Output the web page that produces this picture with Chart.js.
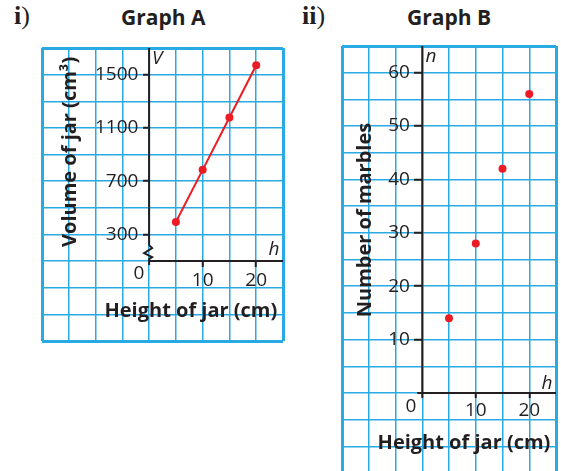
<!DOCTYPE html>
<html>
<head>
<meta charset="utf-8">
<script src="https://cdn.jsdelivr.net/npm/chart.js@4.4.1/dist/chart.umd.min.js"></script>
<style>
  html, body { margin:0; padding:0; background:#fff; overflow:hidden; width:561px; height:471px; }
  .wrap { position:relative; width:561px; height:471px; }
  canvas { position:absolute; }
  #chartA { left:0; top:0; }
  #chartB { left:300px; top:0; }
  .num { position:absolute; top:1px; font-family:"Liberation Serif", serif; font-size:26px; color:#231f20; line-height:30px; }
  .num b { font-weight:bold; }
  .ttl { position:absolute; top:3px; font-family:"Open Sans", sans-serif; font-weight:bold; font-size:21px; color:#231f20; line-height:28px; }
</style>
</head>
<body>
<div class="wrap">
  <div class="num" style="left:14px"><b>i</b>)</div>
  <div class="ttl" style="left:121px">Graph A</div>
  <div class="num" style="left:302px"><b>ii</b>)</div>
  <div class="ttl" style="left:407px">Graph B</div>
  <canvas id="chartA" width="300" height="360"></canvas>
  <canvas id="chartB" width="261" height="490"></canvas>
</div>
<script>
// Graph A: height of jar vs volume
var heightA = [5, 10, 15, 20];
var volumeA = [393, 785, 1178, 1571];
var yLabelsA = [300, 700, 1100, 1500];

// Graph B: height of jar vs number of marbles
var heightB = [5, 10, 15, 20];
var marblesB = [14, 28, 42, 56];
var yLabelsB = [10, 20, 30, 40, 50, 60];

var xLabels = [10, 20];

var ink = '#231f20';
var red = '#ed1c24';
var gridColor = '#2aaae2';
var clear = 'rgba(0,0,0,0)';
var tickFont = {family: 'Open Sans', size: 19};

function pts(xs, ys) {
  var out = [];
  for (var i = 0; i < xs.length; i++) out.push({x: xs[i], y: ys[i]});
  return out;
}

function edgeWidth(c) {
  var n = c.scale.ticks.length;
  return (c.index === 0 || c.index === n - 1) ? 3 : 1.5;
}

function pick(shown) {
  return function(v) { return shown.indexOf(v) >= 0 ? String(v) : ''; };
}

// grid + tick marks
function axisOpts(min, max, step, pos, shown, tickLen, pad, showLabels) {
  return {
    type: 'linear', min: min, max: max, position: pos,
    border: {display: false},
    grid: {
      color: gridColor, lineWidth: edgeWidth, tickLength: tickLen, tickWidth: 2,
      tickColor: function(c) { return shown.indexOf(c.tick.value) >= 0 ? ink : clear; }
    },
    ticks: {
      display: showLabels, stepSize: step, autoSkip: false, maxRotation: 0,
      padding: pad, color: ink, font: tickFont, callback: pick(shown)
    }
  };
}

// labels only, set a little left of the vertical axis
function labelAxis(min, max, step, xAt, shown) {
  return {
    type: 'linear', min: min, max: max, position: {x: xAt},
    border: {display: false}, grid: {display: false},
    ticks: {
      stepSize: step, autoSkip: false, color: ink, font: tickFont, callback: pick(shown)
    }
  };
}

// axis lines with the little break on graph A
var axesPlugin = {
  id: 'axes',
  beforeDatasetsDraw: function(chart, args, o) {
    var ctx = chart.ctx, area = chart.chartArea;
    var ox = chart.scales.x.getPixelForValue(0);
    var oy = chart.scales.y.getPixelForValue(o.originY);
    ctx.save();
    ctx.strokeStyle = ink;
    ctx.lineWidth = 2;
    ctx.beginPath();
    ctx.moveTo(ox - o.xStart, oy);
    ctx.lineTo(area.right, oy);
    ctx.moveTo(ox, area.top);
    if (o.zigzag) {
      ctx.lineTo(ox, oy - 16);
      ctx.lineTo(ox + 3, oy - 13);
      ctx.lineTo(ox - 5, oy - 8);
      ctx.lineTo(ox + 3, oy - 4);
      ctx.lineTo(ox, oy - 2);
    }
    ctx.lineTo(ox, oy + o.yExtra);
    ctx.stroke();
    ctx.restore();
  }
};

var notesPlugin = {
  id: 'notes',
  afterDraw: function(chart, args, o) {
    var ctx = chart.ctx, xs = chart.scales.x, ys = chart.scales.y;
    o.items.forEach(function(it) {
      ctx.save();
      ctx.font = it.font;
      ctx.fillStyle = ink;
      ctx.textAlign = it.align || 'center';
      ctx.textBaseline = 'middle';
      ctx.translate(xs.getPixelForValue(it.x), ys.getPixelForValue(it.y));
      if (it.rotate) ctx.rotate(-Math.PI / 2);
      ctx.fillText(it.text, 0, 0);
      ctx.restore();
    });
  }
};

var bold = 'bold 20px "Open Sans"';
var ital = 'italic 19px "Open Sans"';
var reg = '19px "Open Sans"';

new Chart(document.getElementById('chartA'), {
  type: 'scatter',
  data: {
    datasets: [{
      data: pts(heightA, volumeA), showLine: true,
      borderColor: red, borderWidth: 2, backgroundColor: red,
      pointRadius: 4, pointBorderWidth: 0
    }]
  },
  options: {
    responsive: false, animation: false, devicePixelRatio: 1,
    layout: {padding: {left: 42, right: 17, top: 48, bottom: 19}},
    plugins: {
      legend: {display: false}, tooltip: {enabled: false},
      axes: {originY: 100, xStart: 0, yExtra: 4, zigzag: true},
      notes: {items: [
        {text: 'Volume of jar (cm³)', x: -14.8, y: 920, font: bold, rotate: true},
        {text: 'Height of jar (cm)', x: 7.8, y: -276, font: bold},
        {text: 'V', x: 0.55, y: 1620, font: ital, align: 'left'},
        {text: 'h', x: 22.3, y: 183, font: ital, align: 'left'},
        {text: '0', x: -1.9, y: 5, font: reg}
      ]}
    },
    scales: {
      x: axisOpts(-20, 25, 5, {y: 100}, xLabels, 6, 2, true),
      y: axisOpts(-500, 1700, 200, {x: 0}, yLabelsA, 6, 3, false),
      yl: labelAxis(-500, 1700, 200, -2.0, yLabelsA)
    }
  },
  plugins: [axesPlugin, notesPlugin]
});

new Chart(document.getElementById('chartB'), {
  type: 'scatter',
  data: {
    datasets: [{
      data: pts(heightB, marblesB),
      backgroundColor: red, pointRadius: 4, pointBorderWidth: 0
    }]
  },
  options: {
    responsive: false, animation: false, devicePixelRatio: 1,
    layout: {padding: {left: 42, right: 5, top: 46, bottom: 17}},
    plugins: {
      legend: {display: false}, tooltip: {enabled: false},
      axes: {originY: 0, xStart: 5, yExtra: 5, zigzag: false},
      notes: {items: [
        {text: 'Number of marbles', x: -10.6, y: 32.4, font: bold, rotate: true},
        {text: 'Height of jar (cm)', x: 7.8, y: -9.45, font: bold},
        {text: 'n', x: 0.6, y: 63.1, font: ital, align: 'left'},
        {text: 'h', x: 22.3, y: 1.8, font: ital, align: 'left'},
        {text: '0', x: -2.1, y: -2.5, font: reg}
      ]}
    },
    scales: {
      x: axisOpts(-15, 25, 5, {y: 0}, xLabels, 5, 1, true),
      y: axisOpts(-15, 65, 5, {x: 0}, yLabelsB, 8, 3, false),
      yl: labelAxis(-15, 65, 5, -2.3, yLabelsB)
    }
  },
  plugins: [axesPlugin, notesPlugin]
});
</script>
</body>
</html>
